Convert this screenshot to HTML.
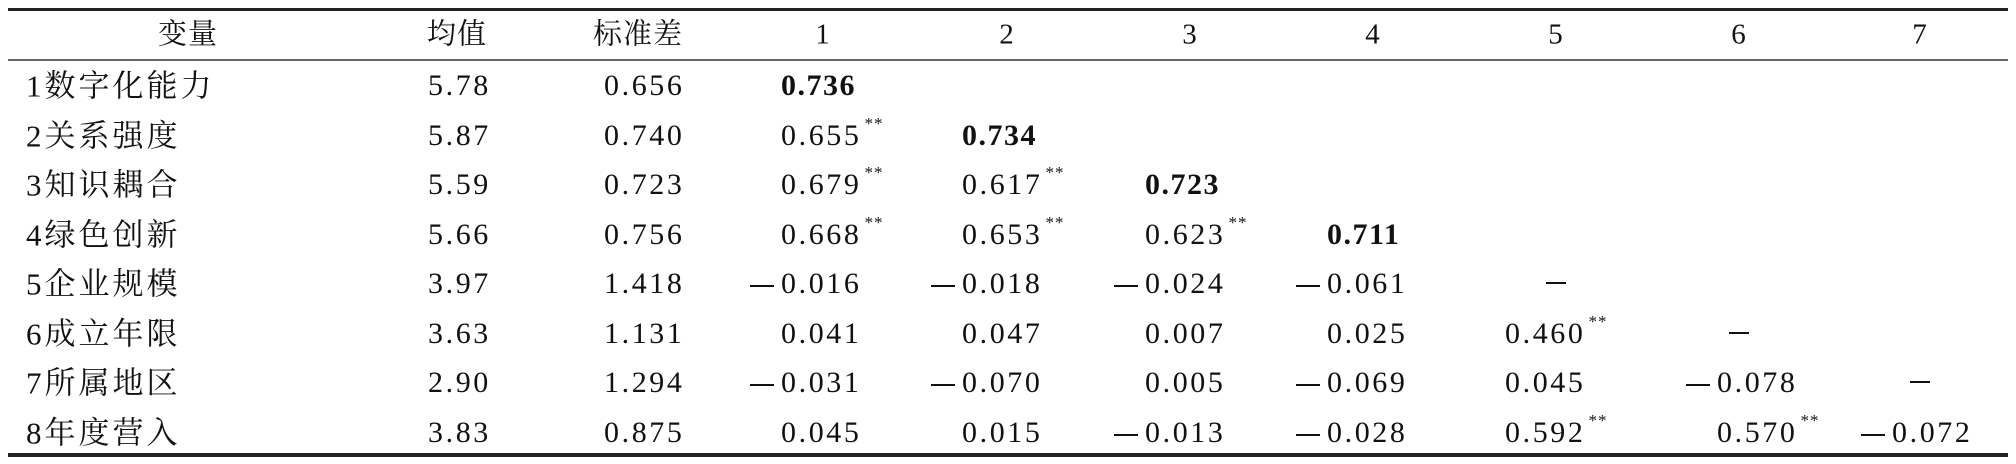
<!DOCTYPE html>
<html><head><meta charset="utf-8">
<style>
html,body{margin:0;padding:0;background:#fff;}
#t{position:relative;width:2016px;height:464px;overflow:hidden;background:#fff;color:#111;}
.rule{position:absolute;left:8px;width:2000px;background:#222;}
.c{position:absolute;white-space:nowrap;line-height:1;transform:translateY(-50%);}
.num{font-family:"Liberation Serif",serif;font-size:30px;letter-spacing:2.6px;}
.cjk{font-family:"Liberation Serif","Noto Serif CJK SC",serif;font-size:31px;letter-spacing:3px;}
.hd{font-family:"Liberation Serif","Noto Serif CJK SC",serif;font-size:29px;letter-spacing:1px;transform:translate(-50%,-50%);}
.b{font-weight:bold;letter-spacing:1.5px;}
.m{display:inline-block;width:24px;height:2px;background:#111;vertical-align:middle;margin-right:7px;margin-left:0;}
sup{font-size:17px;letter-spacing:1px;vertical-align:top;position:relative;top:-6px;margin-left:3px;}
.dash{position:absolute;width:20px;height:2px;background:#111;}
</style></head>
<body>
<div id="t">
<div class="rule" style="top:8px;height:3px"></div>
<div class="rule" style="top:59px;height:2px;background:#666"></div>
<div class="rule" style="top:453px;height:4px"></div>
</div>
<script>
const headers=["变量","均值","标准差","1","2","3","4","5","6","7"];
const headerX=[188,457,638,823,1007,1190,1373,1556,1739,1920];
const labels=["1数字化能力","2关系强度","3知识耦合","4绿色创新","5企业规模","6成立年限","7所属地区","8年度营入"];
const means=["5.78","5.87","5.59","5.66","3.97","3.63","2.90","3.83"];
const sds=["0.656","0.740","0.723","0.756","1.418","1.131","1.294","0.875"];
const corr=[
 ["b:0.736"],
 ["0.655**","b:0.734"],
 ["0.679**","0.617**","b:0.723"],
 ["0.668**","0.653**","0.623**","b:0.711"],
 ["-0.016","-0.018","-0.024","-0.061","—"],
 ["0.041","0.047","0.007","0.025","0.460**","—"],
 ["-0.031","-0.070","0.005","-0.069","0.045","-0.078","—"],
 ["0.045","0.015","-0.013","-0.028","0.592**","0.570**","-0.072"]
];
const colStart=[781,962,1145,1327,1505,1717,1892];
const t=document.getElementById('t');
const rowY=i=>86+49.5*i;
headers.forEach((h,j)=>{
 const d=document.createElement('div');
 d.className='c hd';
 
 
 d.style.left=headerX[j]+'px';d.style.top='35px';d.textContent=h;t.appendChild(d);
});
labels.forEach((l,i)=>{
 const y=rowY(i);
 const a=document.createElement('div');a.className='c cjk';
 
 
 a.style.left='26px';a.style.top=y+'px';a.textContent=l;t.appendChild(a);
 const m=document.createElement('div');m.className='c num';
 
 
 m.style.left='428px';m.style.top=y+'px';m.textContent=means[i];t.appendChild(m);
 const s=document.createElement('div');s.className='c num';
 
 
 s.style.left='604px';s.style.top=y+'px';s.textContent=sds[i];t.appendChild(s);
 corr[i].forEach((v,j)=>{
  if(v==='—'){
   const d=document.createElement('div');d.className='dash';
   
   
   d.style.left=(headerX[j+3]-10)+'px';d.style.top=(y-2)+'px';t.appendChild(d);return;
  }
  const d=document.createElement('div');d.className='c num';
  
  
  let bold=false;if(v.startsWith('b:')){bold=true;v=v.slice(2);}
  let neg=v.startsWith('-');if(neg)v=v.slice(1);
  let sig=v.endsWith('**');if(sig)v=v.slice(0,-2);
  if(bold)d.classList.add('b');
  d.innerHTML=(neg?'<span class="m"></span>':'')+v+(sig?'<sup>**</sup>':'');
  d.style.left=(colStart[j]-(neg?31:0))+'px';d.style.top=y+'px';
  t.appendChild(d);
 });
});
</script>
</body></html>
